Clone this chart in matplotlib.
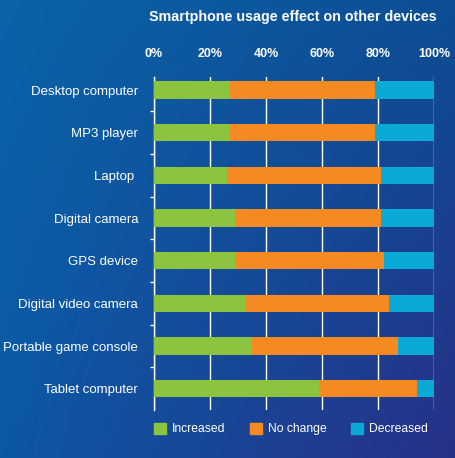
import numpy as np
import matplotlib
matplotlib.use("Agg")
import matplotlib.pyplot as plt
from matplotlib.patches import Rectangle

categories = ["Desktop computer", "MP3 player", "Laptop ", "Digital camera", "GPS device",
              "Digital video camera", "Portable game console", "Tablet computer"]
increased = [27, 27, 26, 29, 29, 33, 35, 59]
no_change = [52, 52, 55, 52, 53, 51, 52, 35]
decreased = [21, 21, 19, 19, 18, 16, 13, 6]
series_names = ["Increased", "No change", "Decreased"]
colors = ["#8cc43f", "#f58a22", "#0aa9d6"]
xticks = [0, 20, 40, 60, 80, 100]
xtick_labels = ["0%", "20%", "40%", "60%", "80%", "100%"]
title = "Smartphone usage effect on other devices"

plt.rcParams['font.family'] = ['Liberation Sans', 'DejaVu Sans']

W, H = 456, 458
fig = plt.figure(figsize=(W / 100, H / 100), dpi=100)

# background gradient
bg = fig.add_axes([0, 0, 1, 1])
bg.set_axis_off()
tl = np.array([11, 99, 168]) / 255
tr = np.array([12, 78, 148]) / 255
bl = np.array([12, 88, 165]) / 255
br = np.array([40, 48, 135]) / 255
yy, xx = np.mgrid[0:1:200j, 0:1:200j]
img = ((1 - xx)[..., None] * (1 - yy)[..., None] * tl + xx[..., None] * (1 - yy)[..., None] * tr
       + (1 - xx)[..., None] * yy[..., None] * bl + xx[..., None] * yy[..., None] * br)
bg.imshow(img, extent=[0, 1, 0, 1], aspect='auto', origin='upper')
bg.set_xlim(0, 1)
bg.set_ylim(0, 1)

# main axes: x from 154 to 434 px, y from 77 to 410 px
x0, x1 = 154, 434
y0, y1 = 77, 410
ax = fig.add_axes([x0 / W, 1 - y1 / H, (x1 - x0) / W, (y1 - y0) / H])
ax.patch.set_alpha(0)
n = len(categories)
pos = np.arange(n)
left = np.zeros(n)
for vals, c, name in zip([increased, no_change, decreased], colors, series_names):
    ax.barh(pos, vals, left=left, height=0.4, color=c, label=name, zorder=3)
    left = left + np.array(vals)

ax.set_xlim(0, 100)
ax.set_ylim(n - 0.5, -0.305)
ax.set_xticks(xticks)
ax.set_xticklabels(xtick_labels, color="white", fontsize=9, fontweight="bold")
ax.xaxis.tick_top()
ax.tick_params(axis='x', length=0, pad=12)
ax.grid(axis='x', color="white", linewidth=1, zorder=1)
ax.set_yticks(pos)
ax.set_yticklabels(categories, color="white", fontsize=9.5)
ax.tick_params(axis='y', length=0, pad=11.5)
ax.set_yticks(np.arange(0.5, n - 1, 1), minor=True)
ax.tick_params(axis='y', which='minor', length=3, color="white", width=1)
for s in ["top", "right", "bottom"]:
    ax.spines[s].set_visible(False)
ax.spines["left"].set_color("white")
ax.spines["left"].set_linewidth(1)

fig.text(293 / W, 1 - 17 / H, title, color="white", fontsize=10.3, fontweight="bold",
         ha="center", va="center")

# legend
handles = [Rectangle((0, 0), 1, 1, color=c) for c in colors]
leg = fig.legend(handles, series_names, loc="center left", bbox_to_anchor=(154 / W, 1 - 429 / H),
                 ncol=3, frameon=False, fontsize=8.7, handlelength=1.0, handleheight=1.0,
                 handletextpad=0.5, columnspacing=2.0, borderpad=0, borderaxespad=0)
for t in leg.get_texts():
    t.set_color("white")

fig.savefig("out.png", dpi=100)
